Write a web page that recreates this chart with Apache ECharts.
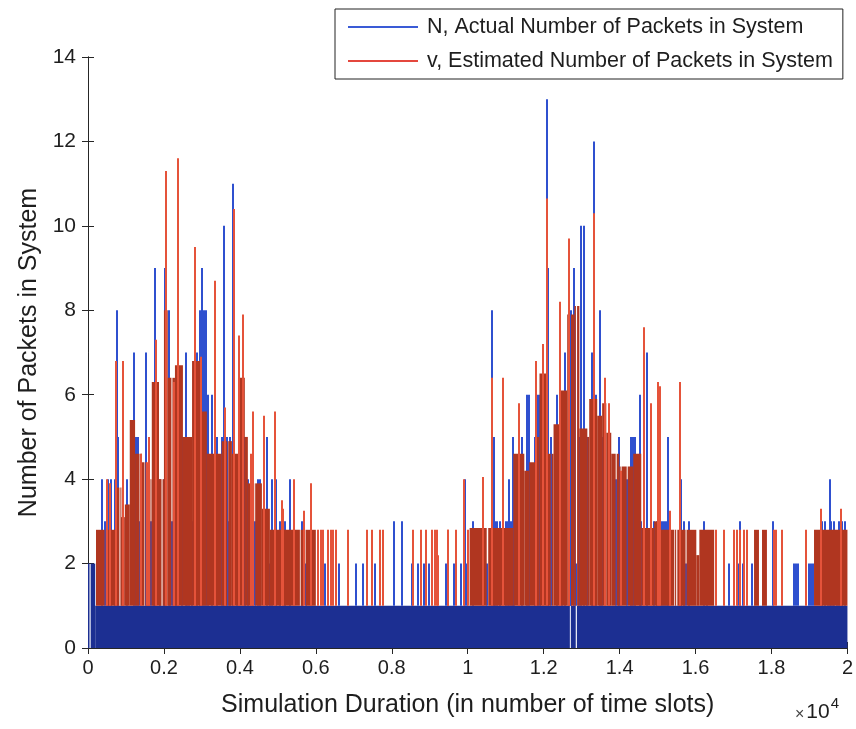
<!DOCTYPE html>
<html><head><meta charset="utf-8">
<script src="https://cdn.jsdelivr.net/npm/echarts@6/dist/echarts.min.js"></script>
<style>html,body{margin:0;padding:0;background:#fff}#chart{width:856px;height:729px}</style>
</head><body><div id="chart"></div>
<script>
// Axis tick labels
const xTickLabels = ['0', '0.2', '0.4', '0.6', '0.8', '1', '1.2', '1.4', '1.6', '1.8', '2'];
const yTickLabels = ['0', '2', '4', '6', '8', '10', '12', '14'];
const seriesNames = ['N, Actual Number of Packets in System', 'v, Estimated Number of Packets in System'];

// N: dense band of rapid 0/1 switching, [from slot, to slot, level]
const actualBand = [
  [0, 40, 2], [70, 190, 2], [190, 12690, 1], [12715, 12845, 1], [12875, 20000, 1]
];

// N: excursions above the band, [slot, packets]
const actualSpikes = [
  [370, 4], [450, 3], [530, 4], [600, 4], [710, 4], [760, 8], [790, 5], [1030, 4], [1210, 7], [1260, 5],
  [1320, 5], [1370, 3], [1530, 7], [1660, 3], [1740, 5], [1760, 9], [1890, 4], [2000, 4], [2030, 9], [2130, 8],
  [2150, 5], [2210, 3], [2310, 6], [2370, 3], [2470, 5], [2580, 7], [2600, 5], [2660, 5], [2740, 3], [2870, 7],
  [2950, 8], [3000, 9], [3050, 8], [3100, 8], [3160, 6], [3260, 6], [3390, 5], [3520, 5], [3580, 10], [3660, 5],
  [3680, 3], [3730, 5], [3810, 11], [3920, 4], [4130, 5], [4210, 4], [4310, 3], [4390, 3], [4470, 4], [4520, 4],
  [4710, 5], [4790, 2], [4840, 4], [4940, 4], [5050, 3], [5130, 2], [5180, 3], [5310, 4], [5630, 3], [5730, 2],
  [6230, 2], [6600, 2], [7070, 2], [7230, 2], [7550, 2], [8050, 3], [8280, 3], [8520, 2], [8680, 2], [8840, 2],
  [8990, 2], [9420, 2], [9630, 2], [9810, 2], [9940, 4], [9970, 2],
  [10130, 3], [10410, 4], [10520, 2], [10650, 8], [10700, 5], [10730, 3], [10780, 3], [10840, 3], [11020, 3], [11070, 3],
  [11100, 4], [11130, 3], [11180, 3], [11200, 5], [11230, 3], [11440, 5], [11550, 6], [11620, 6], [11780, 5], [11860, 6],
  [11910, 6], [11970, 6], [12100, 13], [12120, 9], [12200, 5], [12360, 6], [12490, 6], [12550, 7], [12700, 3], [12730, 8],
  [12810, 9], [12860, 2], [12940, 5], [12990, 10], [13050, 10], [13150, 5], [13260, 7], [13310, 6], [13330, 12], [13390, 6],
  [13490, 8], [13540, 5], [13910, 4], [13990, 5], [14040, 4], [14200, 4], [14310, 5], [14360, 5], [14410, 5], [14540, 6],
  [14570, 3], [14730, 7], [14910, 3], [14990, 3], [15100, 3], [15150, 3], [15200, 3], [15250, 3], [15280, 5], [15620, 4],
  [15700, 3], [15750, 2], [15830, 3], [16230, 3], [16310, 2], [16880, 2], [17120, 2], [17170, 3], [17250, 2], [17490, 2],
  [18040, 3], [18590, 2], [18650, 2], [18700, 2], [18990, 2], [19040, 2], [19090, 2], [19330, 3], [19410, 3], [19490, 2],
  [19540, 4], [19570, 3], [19620, 2], [19650, 3], [19720, 2], [19780, 3], [19860, 3], [19930, 3]
];

// v: dense switching between 1 and a slowly varying envelope, [from slot, to slot, envelope]
const estimatedBand = [
  [210, 740, 2.8], [740, 870, 3.8], [870, 970, 3.1], [970, 1100, 3.4], [1100, 1240, 5.4], [1240, 1420, 4.6],
  [1420, 1550, 4.4], [1550, 1680, 4.0], [1680, 1870, 6.3], [1870, 2000, 4.0], [2000, 2100, 8.0], [2100, 2290, 6.4],
  [2290, 2500, 6.7], [2500, 2740, 5.0], [2740, 2950, 6.8], [2950, 3130, 5.6], [3130, 3520, 4.6], [3520, 3790, 4.9],
  [3790, 3950, 4.6], [3950, 4130, 6.4], [4130, 4210, 5.0], [4210, 4580, 3.9], [4580, 4790, 3.3], [4790, 5580, 2.8],
  [5600, 5680, 2.8], [5730, 6000, 2.8],
  [10050, 10500, 2.84], [10540, 11200, 2.84], [11200, 11490, 4.6], [11490, 11620, 4.2], [11620, 11780, 4.4],
  [11780, 11890, 5.0], [11890, 12100, 6.5], [12100, 12260, 4.6], [12260, 12410, 5.3], [12410, 12620, 6.1],
  [12620, 12690, 7.9], [12720, 12810, 7.9], [12810, 12850, 8.1], [12880, 12940, 8.1], [12940, 13150, 5.2],
  [13150, 13200, 5.0], [13200, 13410, 5.9], [13410, 13540, 5.5], [13540, 13650, 5.8], [13650, 13780, 5.1],
  [13780, 13990, 4.6], [13990, 14360, 4.3], [14360, 14570, 4.6], [14570, 14910, 2.84], [14910, 14990, 3.0],
  [14990, 15440, 2.8], [15460, 15490, 2.8], [15520, 16020, 2.8], [16020, 16100, 2.2], [16100, 16490, 2.8],
  [17540, 17670, 2.8], [17750, 17880, 2.8], [19120, 20000, 2.8]
];

// v: short pauses inside the dense stretches (slot where it stays at its floor)
const estimatedPauses = [
  450, 840, 1370, 1500, 1660, 1950, 2210, 2740, 2950, 3680, 3950, 4310, 4390, 4790, 5100, 5130,
  10520, 11780, 12200, 13150, 13410, 13910, 14040, 14200, 14570, 14990, 15750
];

// v: excursions above the envelope, [slot, packets]
const estimatedSpikes = [
  [500, 4.0], [580, 3.9], [740, 6.8], [920, 6.8], [1390, 4.6], [1550, 4.4], [1600, 5.0], [1790, 7.3], [2050, 11.3],
  [2260, 6.3], [2370, 11.6], [2810, 9.5], [2970, 6.9], [3340, 8.7], [3600, 5.7], [3840, 10.4], [3970, 7.4], [4080, 7.9],
  [4290, 4.6], [4340, 5.6], [4630, 5.5], [4920, 5.6], [5100, 3.5], [5130, 3.3], [5420, 4.0], [5680, 3.25], [5860, 3.9],
  [6050, 2.8], [6130, 2.8], [6180, 2.8], [6310, 2.8], [6390, 2.8], [6440, 2.8], [6520, 2.8], [6860, 2.8], [7360, 2.8],
  [7470, 2.8], [7680, 2.8], [7780, 2.8], [8550, 2.8], [8780, 2.8], [8890, 2.8], [9070, 2.8], [9130, 2.8], [9200, 2.8],
  [9230, 2.2], [9470, 2.8], [9490, 2.8], [9700, 2.8], [9910, 4.0], [10020, 2.8],
  [10410, 4.05], [10650, 6.4], [10940, 6.4], [11360, 5.8], [11810, 6.8], [11970, 7.2], [12100, 10.65], [12440, 8.2],
  [12680, 9.7], [13330, 10.3], [13620, 6.4], [13730, 5.8], [14040, 4.2], [14650, 7.6], [14830, 5.8], [15020, 6.3],
  [15070, 6.2], [15330, 3.25], [15600, 6.3], [16540, 2.8], [16750, 2.8], [17020, 2.8], [17100, 2.8], [17170, 2.8],
  [17280, 2.8], [17360, 2.8], [18070, 2.8], [18120, 2.8], [18280, 2.8], [18910, 2.8], [19300, 3.3], [19830, 3.3]
];

const BLUE_BAND = '#1c2f92';
const BLUE_LINE = '#2f50cf';
const RED_BAND = '#b03620';
const RED_LINE = '#e5533a';
const FONT = '"Liberation Sans", Arial, sans-serif';
const TEXT = '#1e1e1e';
const PAUSE_WIDTH = 26; // about one screen column

// cut each envelope block at the pause slots
function splitAtPauses(band, pauses, w) {
  const out = [];
  band.forEach(([a, b, v]) => {
    let start = a;
    pauses.filter((p) => p > a && p < b).sort((p, q) => p - q).forEach((p) => {
      out.push([start, p - w / 2, v]);
      start = p + w / 2;
    });
    out.push([start, b, v]);
  });
  return out;
}

// filled block from base up to the level in column 2
function bandRenderer(base, color) {
  return function (params, api) {
    const a = api.coord([api.value(0), api.value(2)]);
    const b = api.coord([api.value(1), base]);
    return {
      type: 'rect',
      shape: { x: a[0], y: a[1], width: Math.max(1, b[0] - a[0]), height: b[1] - a[1] },
      style: { fill: color }
    };
  };
}

// vertical stroke from the band top (1) up to the value
function spikeRenderer(color) {
  return function (params, api) {
    const a = api.coord([api.value(0), 1]);
    const b = api.coord([api.value(0), api.value(1)]);
    const x = Math.round(a[0]);
    return {
      type: 'line',
      shape: { x1: x, y1: a[1], x2: x, y2: b[1] },
      style: { stroke: color, lineWidth: 2 }
    };
  };
}

const chart = echarts.init(document.getElementById('chart'), null, { renderer: 'canvas' });

const axisLine = { show: true, lineStyle: { color: '#262626', width: 1 } };
const axisTick = { show: true, inside: true, length: 6, lineStyle: { color: '#262626' } };

chart.setOption({
  animation: false,
  backgroundColor: '#fff',
  grid: { left: 88, right: 8, top: 57, bottom: 81, containLabel: false },
  legend: {
    orient: 'vertical',
    left: 335,
    top: 9,
    padding: [7, 10, 7, 13],
    backgroundColor: '#fff',
    borderColor: '#222',
    borderWidth: 1,
    borderRadius: 0,
    itemWidth: 70,
    itemHeight: 2,
    itemGap: 12,
    z: 10,
    selectedMode: false,
    textStyle: { fontFamily: FONT, fontSize: 21.5, color: TEXT, padding: [0, 0, 0, 4] },
    data: [
      { name: seriesNames[0], icon: 'rect', itemStyle: { color: '#3a5bd6' } },
      { name: seriesNames[1], icon: 'rect', itemStyle: { color: '#e4473d' } }
    ]
  },
  xAxis: [{
    type: 'value', min: 0, max: 20000, interval: 2000, position: 'bottom',
    name: 'Simulation Duration (in number of time slots)',
    nameLocation: 'middle', nameGap: 45,
    nameTextStyle: { fontFamily: FONT, fontSize: 25, color: TEXT },
    axisLine, axisTick, splitLine: { show: false },
    axisLabel: {
      fontFamily: FONT, fontSize: 20, color: TEXT, margin: 10,
      formatter: (v) => xTickLabels[Math.round(v / 2000)]
    }
  }, {
    type: 'value', min: 0, max: 20000, interval: 2000, position: 'top',
    axisLine, axisTick, splitLine: { show: false }, axisLabel: { show: false }
  }],
  yAxis: [{
    type: 'value', min: 0, max: 14, interval: 2, position: 'left',
    name: 'Number of Packets in System',
    nameLocation: 'middle', nameGap: 44,
    nameTextStyle: { fontFamily: FONT, fontSize: 25, color: TEXT },
    axisLine, axisTick, splitLine: { show: false },
    axisLabel: {
      fontFamily: FONT, fontSize: 21, color: TEXT, margin: 12,
      formatter: (v) => yTickLabels[Math.round(v / 2)]
    }
  }, {
    type: 'value', min: 0, max: 14, interval: 2, position: 'right',
    axisLine, axisTick, splitLine: { show: false }, axisLabel: { show: false }
  }],
  graphic: [{
    type: 'text', left: 795, top: 696, z: 10,
    style: {
      text: '{x|×}{b|10}{s|4}',
      fill: TEXT,
      rich: {
        x: { fontFamily: FONT, fontSize: 16, fill: '#444', verticalAlign: 'bottom', padding: [0, 2, 0, 0] },
        b: { fontFamily: FONT, fontSize: 21, fill: TEXT, verticalAlign: 'bottom' },
        s: { fontFamily: FONT, fontSize: 15, fill: TEXT, verticalAlign: 'top', padding: [0, 0, 12, 1] }
      }
    }
  }],
  series: [
    {
      name: seriesNames[0], type: 'custom', clip: true, z: 1,
      renderItem: bandRenderer(0, BLUE_BAND), encode: { x: [0, 1], y: 2 }, data: actualBand
    },
    {
      name: seriesNames[0], type: 'custom', clip: true, z: 2,
      renderItem: spikeRenderer(BLUE_LINE), encode: { x: 0, y: 1 }, data: actualSpikes
    },
    {
      name: seriesNames[1], type: 'custom', clip: true, z: 3,
      renderItem: bandRenderer(1, RED_BAND), encode: { x: [0, 1], y: 2 },
      data: splitAtPauses(estimatedBand, estimatedPauses, PAUSE_WIDTH)
    },
    {
      name: seriesNames[1], type: 'custom', clip: true, z: 4,
      renderItem: spikeRenderer(RED_LINE), encode: { x: 0, y: 1 }, data: estimatedSpikes
    }
  ]
});
</script>
</body></html>
